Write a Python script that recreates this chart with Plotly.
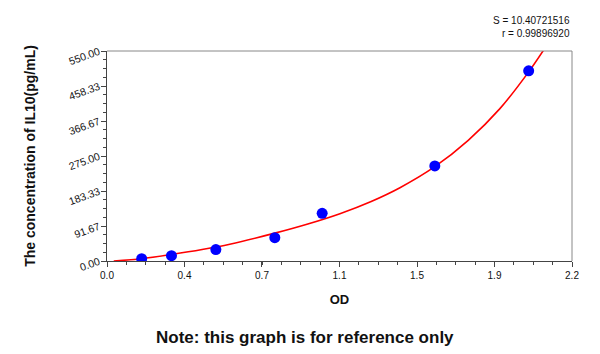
import plotly.graph_objects as go

# Standard points
od_points = [0.164, 0.305, 0.515, 0.794, 1.018, 1.551, 1.995]
conc_points = [6, 14, 30, 61, 125, 249, 498]

# Fitted curve
od_curve = [0.032, 0.164, 0.305, 0.45, 0.581, 0.794, 0.95, 1.102, 1.25, 1.386, 1.551, 1.709, 1.859, 1.996, 2.07]
conc_curve = [0, 6, 17, 30, 44, 73, 97, 124, 156, 192, 247, 316, 399, 496, 556]

y_tickvals = [0, 91.67, 183.33, 275, 366.67, 458.33, 550]
y_ticktext = ["0.00", "91.67", "183.33", "275.00", "366.67", "458.33", "550.00"]
x_tickvals = [0, 0.3667, 0.7333, 1.1, 1.4667, 1.8333, 2.2]
x_ticktext = ["0.0", "0.4", "0.7", "1.1", "1.5", "1.9", "2.2"]

fig = go.Figure()
fig.add_trace(go.Scatter(x=od_curve, y=conc_curve, mode="lines",
                         line=dict(color="#ff0000", width=1.6, shape="spline", smoothing=0.8),
                         hoverinfo="skip", showlegend=False, cliponaxis=True))
fig.add_trace(go.Scatter(x=od_points, y=conc_points, mode="markers",
                         marker=dict(color="#0000ff", size=11, line=dict(width=0)),
                         showlegend=False))

font_family = "Liberation Sans, Arial, sans-serif"

fig.update_layout(
    width=600, height=354,
    margin=dict(l=107, r=28, t=51, b=93),
    plot_bgcolor="white", paper_bgcolor="white",
    font=dict(family=font_family, color="#111"),
    xaxis=dict(range=[0, 2.2], tickmode="array", tickvals=x_tickvals, ticktext=x_ticktext,
               showgrid=False, zeroline=False, showline=True, linecolor="#444", linewidth=1,
               ticks="outside", ticklen=5, tickcolor="#444", tickfont=dict(size=10, color="#111"),
               minor=dict(tickmode="linear", tick0=0, dtick=2.2/24, ticks="outside", ticklen=3, tickcolor="#444", showgrid=False),
               title=dict(text="<b>OD</b>", font=dict(size=13, color="#111"), standoff=14)),
    yaxis=dict(range=[0, 550], tickmode="array", tickvals=y_tickvals, ticktext=y_ticktext,
               showgrid=False, zeroline=False, showline=True, linecolor="#444", linewidth=1,
               ticks="outside", ticklen=5, tickcolor="#444", tickangle=-20, tickfont=dict(size=10.5, color="#111"),
               minor=dict(tickmode="linear", tick0=0, dtick=550/24, ticks="outside", ticklen=3, tickcolor="#444", showgrid=False),
               title=dict(text="<b>The concentration of IL10(pg/mL)</b>", font=dict(size=14, color="#111"), standoff=28)),
    shapes=[
        dict(type="line", xref="paper", yref="paper", x0=0, x1=1, y0=1, y1=1, line=dict(color="#888", width=1)),
        dict(type="line", xref="paper", yref="paper", x0=1, x1=1, y0=0, y1=1, line=dict(color="#888", width=1)),
    ],
    annotations=[
        dict(text="S = 10.40721516<br>r = 0.99896920", xref="paper", yref="paper", x=1, y=1,
             xanchor="right", yanchor="bottom", yshift=10, showarrow=False, align="right",
             font=dict(size=10, color="#111", family=font_family)),
        dict(text="<b>Note: this graph is for reference only</b>", xref="paper", yref="paper",
             x=0.426, y=0, yshift=-76, xanchor="center", yanchor="middle", showarrow=False,
             font=dict(size=17, color="#111", family=font_family)),
    ],
)

fig.write_html("out.html")
